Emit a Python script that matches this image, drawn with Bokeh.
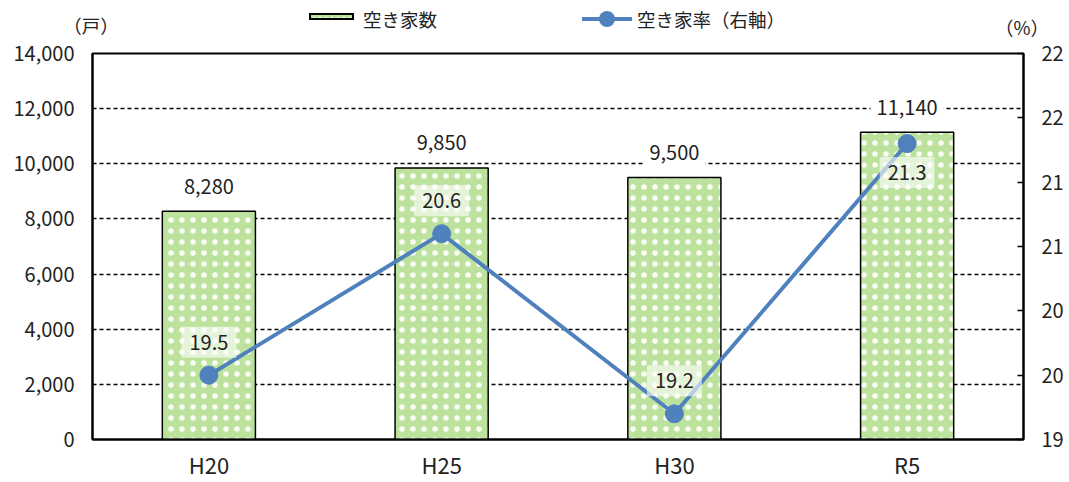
from bokeh.plotting import figure
from bokeh.layouts import column
from bokeh.models import (ColumnDataSource, LinearAxis, Range1d, FixedTicker,
                          NumeralTickFormatter, Label, FactorRange, Div)
from bokeh.embed import file_html
from bokeh.resources import INLINE

# ---- data ----
years = ["H20", "H25", "H30", "R5"]
vacant_homes = [8280, 9850, 9500, 11140]
vacancy_rate = [19.5, 20.6, 19.2, 21.3]
left_ticks = [0, 2000, 4000, 6000, 8000, 10000, 12000, 14000]
right_ticks = [19.0, 19.5, 20.0, 20.5, 21.0, 21.5, 22.0]
bar_name = "空き家数"
line_name = "空き家率（右軸）"
left_unit = "（戸）"
right_unit = "（%）"

FONT = "Noto Sans CJK JP"
TXT = "#222222"
BLUE = "#4f81bd"
BAR_FILL = "#bde29e"
W = 1069
TOP_H = 38

src = ColumnDataSource(dict(year=years, count=vacant_homes, rate=vacancy_rate))

# ================= main chart =================
p = figure(x_range=FactorRange(*years), y_range=Range1d(0, 14000),
           width=W, height=482 - TOP_H, output_backend="svg", toolbar_location=None,
           min_border_left=92, min_border_right=46, min_border_top=15, min_border_bottom=42)
p.extra_y_ranges = {"pct": Range1d(19, 22)}

p.outline_line_color = "black"
p.outline_line_width = 2
p.xgrid.grid_line_color = None
p.ygrid.ticker = FixedTicker(ticks=left_ticks)
p.ygrid.grid_line_color = "black"
p.ygrid.grid_line_dash = "4 3"
p.ygrid.grid_line_width = 1.3

ya = p.yaxis[0]
ya.ticker = FixedTicker(ticks=left_ticks)
ya.formatter = NumeralTickFormatter(format="0,0")
ya.axis_line_color = "black"
ya.axis_line_width = 2
ya.major_tick_line_color = None
ya.minor_tick_line_color = None
ya.major_tick_out = 0
ya.major_label_standoff = 18
ya.major_label_text_font = FONT
ya.major_label_text_font_size = "20px"
ya.major_label_text_color = TXT

xa = p.xaxis[0]
xa.axis_line_color = "black"
xa.axis_line_width = 2
xa.major_tick_line_color = None
xa.major_tick_out = 0
xa.major_label_standoff = 8
xa.major_label_text_font = FONT
xa.major_label_text_font_size = "22px"
xa.major_label_text_color = TXT

ra = LinearAxis(y_range_name="pct", ticker=FixedTicker(ticks=right_ticks),
                formatter=NumeralTickFormatter(format="0"))
ra.axis_line_color = "black"
ra.axis_line_width = 2
ra.major_tick_line_color = "black"
ra.major_tick_line_width = 1.5
ra.major_tick_in = 6
ra.major_tick_out = 0
ra.minor_tick_line_color = None
ra.major_label_standoff = 18
ra.major_label_text_font = FONT
ra.major_label_text_font_size = "20px"
ra.major_label_text_color = TXT
p.add_layout(ra, "right")

bars = p.vbar(x="year", top="count", width=0.4, source=src,
              fill_color=BAR_FILL, line_color="black", line_width=1.5,
              hatch_pattern="dot", hatch_color="white", hatch_scale=11,
              hatch_weight=2, hatch_alpha=0.9)

ln = p.line(x="year", y="rate", source=src, y_range_name="pct",
            line_color=BLUE, line_width=4)
mk = p.scatter(x="year", y="rate", source=src, y_range_name="pct",
               size=18, fill_color=BLUE, line_color=BLUE)

# bar value labels (category centre = index + 0.5 on the factor range)
for i, v in enumerate(vacant_homes):
    p.add_layout(Label(x=i + 0.5, y=v, text=f"{v:,}", y_offset=25,
                       text_align="center", text_baseline="middle",
                       text_font=FONT, text_font_size="20px", text_color=TXT,
                       background_fill_color="white", padding=6))

place = ["above", "above", "above", "below"]
for i, (r, pl) in enumerate(zip(vacancy_rate, place)):
    off = 33 if pl == "above" else -29
    p.add_layout(Label(x=i + 0.5, y=r, y_range_name="pct", text=f"{r:.1f}", y_offset=off,
                       text_align="center", text_baseline="middle",
                       text_font=FONT, text_font_size="20px", text_color=TXT,
                       background_fill_color="white", background_fill_alpha=0.6,
                       padding=8))

# ================= header strip: units + legend =================
def span(txt, left, top, width=None, align="left"):
    w = f"width:{width}px;" if width else ""
    return (f'<span style="position:absolute;left:{left}px;top:{top}px;{w}'
            f'text-align:{align};line-height:18.5px;white-space:nowrap;">{txt}</span>')

header_html = (
    f'<div style="position:relative;width:{W}px;height:{TOP_H}px;'
    f"font-family:'{FONT}';font-size:18.5px;color:{TXT};\">"
    + span(left_unit, 61, 16, 60, "center")
    # bar legend swatch
    + f'<div style="position:absolute;left:309px;top:13px;width:45px;height:7px;'
      f'border:2px solid black;background-color:{BAR_FILL};'
      'background-image:radial-gradient(circle, white 1px, transparent 1.6px);'
      'background-size:6px 6px;"></div>'
    + span(bar_name, 363, 10)
    # line legend swatch
    + f'<div style="position:absolute;left:582px;top:17px;width:50px;height:4px;background:{BLUE};"></div>'
    + f'<div style="position:absolute;left:599px;top:11px;width:16px;height:16px;'
      f'border-radius:50%;background:{BLUE};"></div>'
    + span(line_name, 637, 10)
    + span(right_unit, 992, 18, 60, "center")
    + "</div>"
)
header = Div(text=header_html, width=W, height=TOP_H, margin=0)

layout = column(header, p, spacing=0)
open("out.html", "w").write(file_html(layout, INLINE))
